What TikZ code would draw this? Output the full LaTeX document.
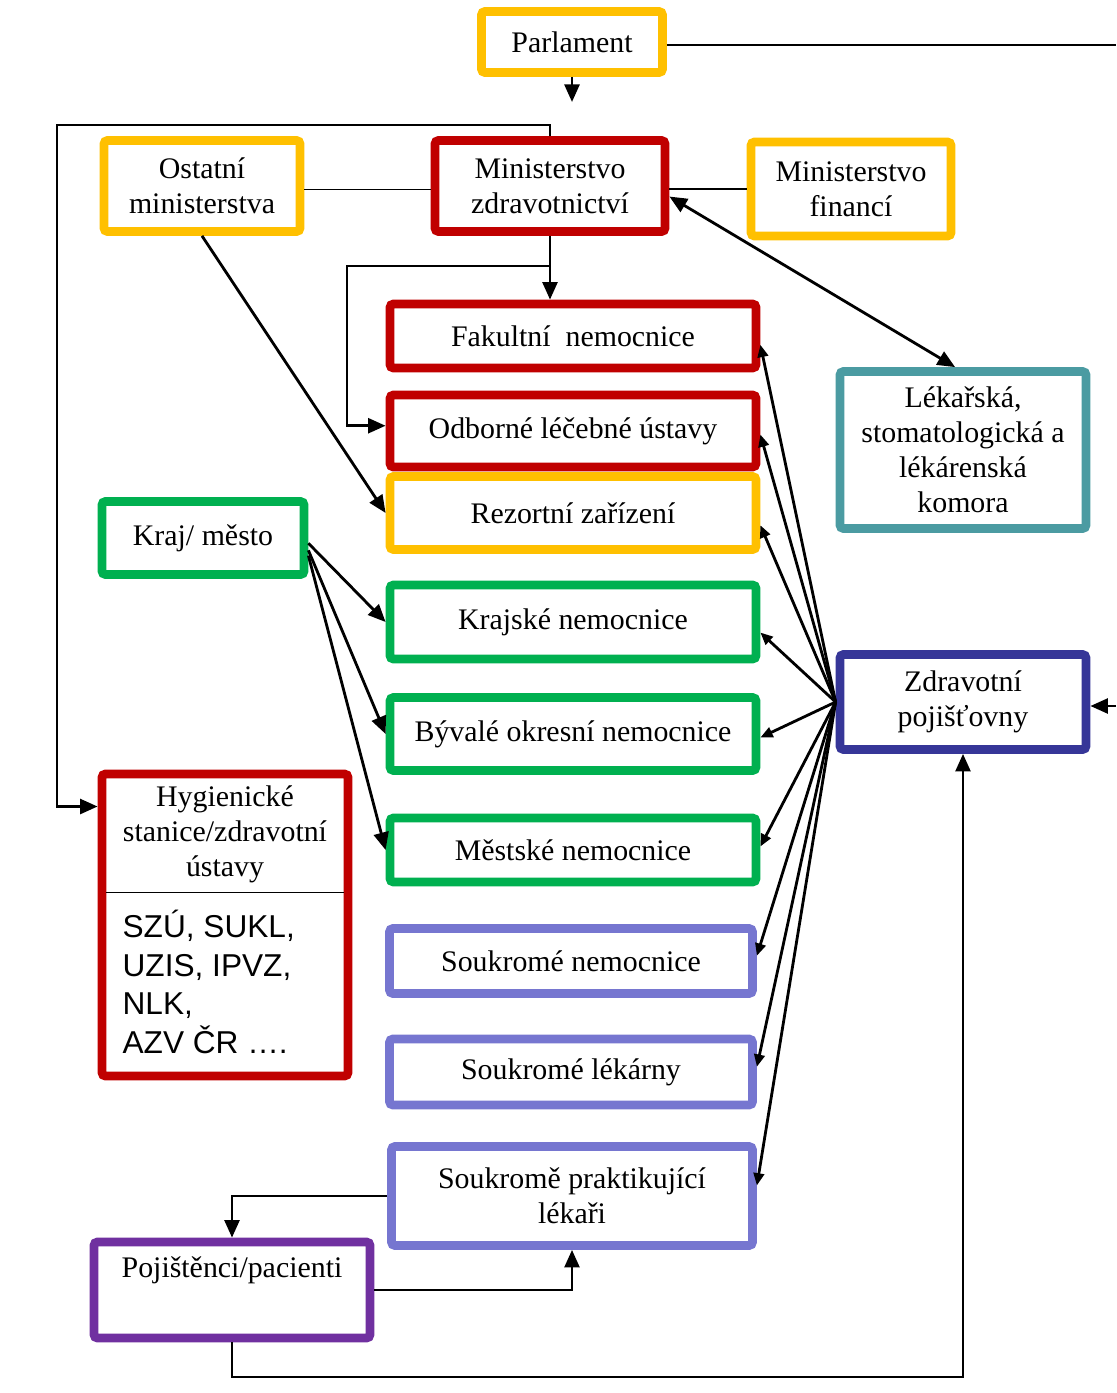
\documentclass[tikz,border=0pt]{standalone}
\usepackage{fontspec}
\setmainfont{Liberation Serif}
\setsansfont{Liberation Sans}
\usetikzlibrary{arrows.meta}
\definecolor{zluta}{HTML}{FFC000}
\definecolor{cervena}{HTML}{C00000}
\definecolor{zelena}{HTML}{00B050}
\definecolor{tyrkys}{HTML}{4B9BA2}
\definecolor{modra}{HTML}{363698}
\definecolor{levandule}{HTML}{7676D0}
\definecolor{fialova}{HTML}{7030A0}
\tikzstyle{organ} = [draw, line width=5pt, rounded corners=2pt, fill=white, align=center, inner sep=2pt, font=\fontsize{17}{20}\selectfont]
\tikzstyle{nadpis} = [align=center, inner sep=5.5pt, font=\fontsize{17}{20}\selectfont]
\tikzstyle{seznam} = [align=left, inner sep=3pt, font=\sffamily\fontsize{18}{22}\selectfont]
\tikzstyle{spoj} = [line width=1.6pt, -{Triangle[length=10pt,width=8.5pt]}]
\tikzstyle{vejir} = [line width=1.6pt, -{Triangle[length=7pt,width=6pt]}]
\tikzstyle{obouspoj} = [line width=1.6pt, {Triangle[length=10pt,width=8.5pt]}-{Triangle[length=10pt,width=8.5pt]}]
\tikzstyle{tenka} = [line width=0.8pt]
\tikzset{boxsize/.style 2 args={minimum width=#1*0.02cm, minimum height=#2*0.02cm}}

\begin{document}
\begin{tikzpicture}[x=0.02cm, y=-0.02cm]
\useasboundingbox (0,0) rectangle (1116,1393);
% urady
\node[organ, draw=zluta, boxsize={181}{61}] (parlament) at (572,42) {Parlament};
\node[organ, draw=zluta, boxsize={196}{91}] (ostatni) at (202,186) {Ostatní\\ministerstva};
\node[organ, draw=cervena, boxsize={230}{91}] (mzd) at (550,186) {Ministerstvo\\zdravotnictví};
\node[organ, draw=zluta, boxsize={200}{94}] (mfin) at (851,189) {Ministerstvo\\financí};
\node[organ, draw=tyrkys, boxsize={246}{157}] (komora) at (963,450) {Lékařská,\\stomatologická a\\lékárenská\\komora};
\node[organ, draw=zelena, boxsize={202}{73}] (kraj) at (203,538) {Kraj/ město};
\node[organ, draw=modra, boxsize={246}{95}] (pojistovny) at (963,702) {Zdravotní\\pojišťovny};
% zarizeni
\node[organ, draw=cervena, boxsize={366}{64}] (fakultni) at (573,336) {Fakultní\ \ nemocnice};
\node[organ, draw=cervena, boxsize={366}{72}] (odborne) at (573,431) {Odborné léčebné ústavy};
\node[organ, draw=zluta, boxsize={366}{73}] (rezortni) at (573,513) {Rezortní zařízení};
\node[organ, draw=zelena, boxsize={366}{74}] (krajske) at (573,622) {Krajské nemocnice};
\node[organ, draw=zelena, boxsize={366}{73}] (okresni) at (573,734) {Bývalé okresní nemocnice};
\node[organ, draw=zelena, boxsize={366}{64}] (mestske) at (573,850) {Městské nemocnice};
\node[organ, draw=levandule, boxsize={363}{65}] (soukrnem) at (571,961) {Soukromé nemocnice};
\node[organ, draw=levandule, boxsize={363}{66}] (lekarny) at (571,1072) {Soukromé lékárny};
\node[organ, draw=levandule, boxsize={361}{99}] (praktici) at (572,1196) {Soukromě praktikující\\lékaři};
\node[organ, draw=fialova, boxsize={276}{96}] (pacienti) at (232,1290) {Pojištěnci/pacienti\\\strut};
% hygiena
\node[organ, draw=cervena, boxsize={246}{302}] (hygiena) at (225,925) {};
\node[nadpis] (hygtitul) at (225,834) {Hygienické\\stanice/zdravotní\\ústavy};
\node[seznam, anchor=west] (hygseznam) at (117,982) {SZÚ, SUKL,\\UZIS, IPVZ,\\NLK,\\AZV ČR ….};
\draw[tenka] ([xshift=5pt]hygiena.west |- hygtitul.south) -- ([xshift=-5pt]hygiena.east |- hygtitul.south);

% spoje nahore
\coordinate (parpod) at (572,102);
\coordinate (vpravo) at (1116,45);
\coordinate (zprava) at (1116,706);
\draw[spoj] (parlament.south) -- (parpod);
\draw[line width=1.5pt] (parlament.east |- vpravo) -- (vpravo);
\draw[spoj] (zprava) -- (zprava -| pojistovny.east);
\draw[tenka] ([yshift=-2pt]ostatni.east) -- ([yshift=-2pt]mzd.west);
\draw[tenka] (mfin.west) -- (mfin.west -| mzd.east);
\coordinate (smycka) at (57,125);
\draw[spoj] (mzd.north) |- (smycka) |- ([yshift=-21pt]hygiena.north west);
\draw[spoj] (mzd.south) -- (mzd.south |- fakultni.north);
\coordinate (odbocka) at (347,266);
\draw[spoj] (mzd.south |- odbocka) -- (odbocka) |- ([yshift=3pt]odborne.west);
\draw[spoj] (ostatni.south) -- (rezortni.west);
\draw[obouspoj] ([yshift=-6pt]mzd.east) -- ([xshift=-4.5pt]komora.north);

% kraj a pojistovny
\foreach \cil/\posun in {krajske/-3pt, okresni/-7pt, mestske/-10pt}
  \draw[spoj] ([yshift=\posun]kraj.east) -- (\cil.west);
\foreach \cil/\posun in {fakultni/-5pt, odborne/-2pt, rezortni/-7pt, krajske/-6pt, okresni/-2pt, mestske/2pt, soukrnem/3pt, lekarny/3pt, praktici/6pt}
  \draw[vejir] (pojistovny.west) -- ([yshift=\posun]\cil.east);

% pacienti
\draw[spoj] (praktici.west) -| (pacienti.north);
\draw[spoj] (pacienti.east) -| (praktici.south);
\coordinate (dole) at (600,1377);
\draw[spoj] (pacienti.south) |- (dole) -| (pojistovny.south);
\end{tikzpicture}
\end{document}
